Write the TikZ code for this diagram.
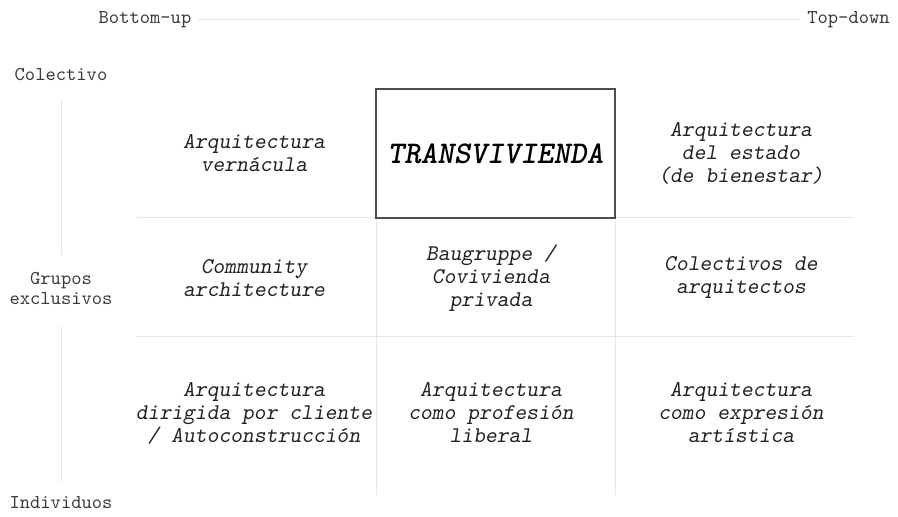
\documentclass[tikz,border=0pt]{standalone}
\usepackage{fontspec}
\usetikzlibrary{positioning}
\definecolor{grid-gray}{HTML}{E6E6E6}
\definecolor{box-gray}{HTML}{4D4D4D}
\definecolor{text-gray}{HTML}{222222}
\definecolor{label-gray}{HTML}{3A3A3A}
\newlength{\basisb}
\setlength{\basisb}{5pt}

\begin{document}
\begin{tikzpicture}[line width=0.1\basisb,
    axislabel/.style={font=\ttfamily\fontsize{9.8}{10}\selectfont, text=label-gray, align=center},
    cell/.style={font=\ttfamily\slshape\fontsize{11.25}{11.5}\selectfont, text=text-gray, align=center},
    gridline/.style={color=grid-gray, line width=0.1\basisb}]
    \useasboundingbox (0,0) rectangle (89.8\basisb,51.7\basisb);

    % axis labels
    \draw (14.5\basisb,49.7\basisb) node[axislabel] (BottomUp) {Bottom-up};
    \draw (84.85\basisb,49.7\basisb) node[axislabel] (TopDown) {Top-down};
    \draw (6.1\basisb,44.2\basisb) node[axislabel] (Colectivo) {Colectivo};
    \draw (6.1\basisb,22.9\basisb) node[axislabel] (Grupos) {Grupos\\exclusivos};
    \draw (6.1\basisb,1.4\basisb) node[axislabel] (Individuos) {Individuos};

    \draw[gridline] (BottomUp) -- (TopDown);
    \draw[gridline, shorten <=1.1\basisb, shorten >=1.0\basisb] (Colectivo) -- (Grupos);
    \draw[gridline, shorten <=1.5\basisb, shorten >=0.8\basisb] (Grupos) -- (Individuos);

    % grid
    \draw[gridline] (13.7\basisb,29.9\basisb) -- (85.4\basisb,29.9\basisb);
    \draw[gridline] (13.7\basisb,18.0\basisb) -- (85.4\basisb,18.0\basisb);
    \draw[gridline] (37.6\basisb,29.9\basisb) -- (37.6\basisb,2.2\basisb);
    \draw[gridline] (61.5\basisb,29.9\basisb) -- (61.5\basisb,2.2\basisb);

    \draw (49.55\basisb,36.35\basisb) 
		node[draw=box-gray, line width=0.15\basisb, minimum width=23.9\basisb, minimum height=12.9\basisb, text=black, font=\ttfamily\bfseries\slshape\fontsize{15.8}{16}\selectfont] 
			(Transvivienda) {TRANSVIVIENDA};

    % cells
    \draw (25.4\basisb,36.4\basisb) node[cell] (Vernacula) {Arquitectura\\vern\'acula};
    \draw (74.1\basisb,36.4\basisb) node[cell] (Estado) {Arquitectura\\del estado\\(de bienestar)};
    \draw (25.4\basisb,23.9\basisb) node[cell] (Community) {Community\\architecture};
    \draw (49.1\basisb,23.9\basisb) node[cell] (Baugruppe) {Baugruppe /\\Covivienda\\privada};
    \draw (74.1\basisb,23.9\basisb) node[cell] (Colectivos) {Colectivos de\\arquitectos};
    \draw (25.4\basisb,10.4\basisb) node[cell] (Cliente) {Arquitectura\\dirigida por cliente\\/ Autoconstrucci\'on};
    \draw (49.1\basisb,10.4\basisb) node[cell] (Profesion) {Arquitectura\\como profesi\'on\\liberal};
    \draw (74.1\basisb,10.4\basisb) node[cell] (Artistica) {Arquitectura\\como expresi\'on\\art\'istica};
\end{tikzpicture}
\end{document}
